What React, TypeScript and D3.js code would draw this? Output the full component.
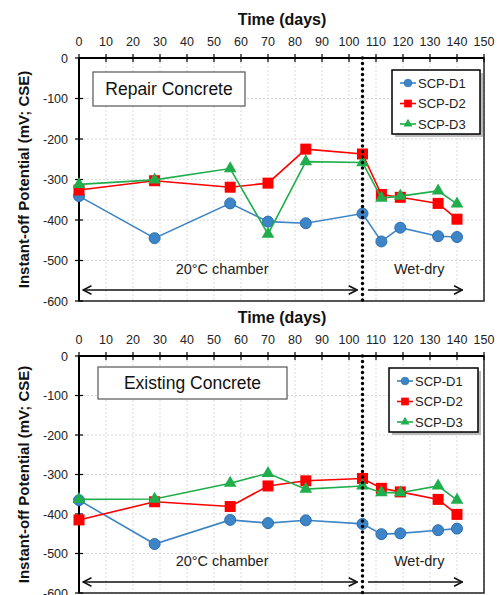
import React from 'react';
import * as d3 from 'd3';

// days when readings were taken
const days = [0, 28, 56, 70, 84, 105, 112, 119, 133, 140];

// Repair concrete (mV; CSE)
const repairD1 = [-341, -445, -359, -404, -408, -384, -453, -419, -440, -442];
const repairD2 = [-326, -303, -319, -309, -225, -237, -337, -344, -359, -398];
const repairD3 = [-312, -301, -273, -435, -256, -258, -346, -341, -328, -360];

// Existing concrete (mV; CSE)
const existD1 = [-365, -476, -415, -423, -416, -425, -451, -449, -441, -437];
const existD2 = [-415, -369, -381, -329, -316, -310, -335, -344, -363, -401];
const existD3 = [-363, -362, -322, -297, -337, -329, -346, -346, -329, -365];

const seriesNames = ['SCP-D1', 'SCP-D2', 'SCP-D3'];
const seriesColors = ['#3d85c6', '#ff0000', '#1fae4b'];
const xTicks = d3.range(0, 151, 10);
const yTicks = d3.range(-600, 1, 100);
const switchDay = 105;

const FONT = 'Arial, "Liberation Sans", sans-serif';

const Marker = ({ kind, x, y }) => {
  if (kind === 0) {
    return <circle cx={x} cy={y} r={5.5} fill={seriesColors[0]} stroke="#2a6fb0" strokeWidth={1} />;
  }
  if (kind === 1) {
    return <rect x={x - 5.5} y={y - 5.5} width={11} height={11} fill={seriesColors[1]} />;
  }
  const tri = d3.symbol().type(d3.symbolTriangle).size(70)();
  return <path d={tri} transform={`translate(${x},${y})`} fill={seriesColors[2]} />;
};

const Panel = ({ top, bottom, title, titleBox, legendBox, series }) => {
  const x = d3.scaleLinear().domain([0, 150]).range([79, 484]);
  const y = d3.scaleLinear().domain([-600, 0]).range([bottom, top]);
  const line = d3.line().x(d => x(d[0])).y(d => y(d[1]));

  const arrowY = y(-600) - 11;
  const noteY = y(-600) - 27;

  return (
    <g fontFamily={FONT}>
      {/* grid */}
      {xTicks.map(t => (
        <line key={'gx' + t} x1={x(t)} x2={x(t)} y1={y(0)} y2={y(-600)} stroke="#d9d9d9" strokeDasharray="2,2" />
      ))}
      {yTicks.map(t => (
        <line key={'gy' + t} x1={x(0)} x2={x(150)} y1={y(t)} y2={y(t)} stroke="#d9d9d9" strokeDasharray="2,2" />
      ))}

      {/* frame */}
      <rect x={x(0)} y={y(0)} width={x(150) - x(0)} height={y(-600) - y(0)} fill="none" stroke="#222" strokeWidth={1.5} />
      <line x1={x(0)} x2={x(150)} y1={y(0)} y2={y(0)} stroke="#000" strokeWidth={2} />
      <line x1={x(0)} x2={x(0)} y1={y(0)} y2={y(-600)} stroke="#000" strokeWidth={2} />

      {/* x axis on top */}
      {xTicks.map(t => (
        <g key={'tx' + t}>
          <line x1={x(t)} x2={x(t)} y1={y(0) - 4} y2={y(0) + 4} stroke="#000" strokeWidth={1.2} />
          <text x={x(t)} y={y(0) - 12} textAnchor="middle" fontSize={12.5} fill="#222">{t}</text>
        </g>
      ))}
      <text x={282} y={top - 33} textAnchor="middle" fontSize={16} fontWeight="bold" fill="#111">Time (days)</text>

      {/* y axis */}
      {yTicks.map(t => (
        <g key={'ty' + t}>
          <line x1={x(0) - 4} x2={x(0) + 4} y1={y(t)} y2={y(t)} stroke="#000" strokeWidth={1.2} />
          <text x={x(0) - 11} y={y(t) + 4.5} textAnchor="end" fontSize={12.5} fill="#222">{t}</text>
        </g>
      ))}
      <text
        transform={`translate(29,${(top + bottom) / 2}) rotate(-90)`}
        textAnchor="middle"
        fontSize={15}
        fontWeight="bold"
        fill="#111"
      >Instant-off Potential (mV; CSE)</text>

      {/* series */}
      {series.map((vals, i) => {
        const pts = days.map((d, j) => [d, vals[j]]);
        return (
          <g key={'s' + i}>
            <path d={line(pts)} fill="none" stroke={seriesColors[i]} strokeWidth={1.6} />
            {pts.map((p, j) => <Marker key={j} kind={i} x={x(p[0])} y={y(p[1])} />)}
          </g>
        );
      })}

      {/* switch from chamber to wet-dry */}
      <line x1={x(switchDay)} x2={x(switchDay)} y1={y(0)} y2={y(-600)} stroke="#000" strokeWidth={3.5} strokeDasharray="0,5.5" strokeLinecap="round" />

      {/* phase arrows */}
      <line x1={x(1.5)} x2={x(103)} y1={arrowY} y2={arrowY} stroke="#111" strokeWidth={1.5} markerStart="url(#arr)" markerEnd="url(#arr)" />
      <line x1={x(107)} x2={x(142)} y1={arrowY} y2={arrowY} stroke="#111" strokeWidth={1.5} markerEnd="url(#arr)" />
      <text x={x(53)} y={noteY} textAnchor="middle" fontSize={14.5} fill="#222">20°C chamber</text>
      <text x={x(126)} y={noteY} textAnchor="middle" fontSize={14.5} fill="#222">Wet-dry</text>

      {/* panel title */}
      <rect x={titleBox[0]} y={titleBox[1]} width={titleBox[2]} height={titleBox[3]} fill="#fff" stroke="#555" strokeWidth={1.2} />
      <text x={titleBox[0] + titleBox[2] / 2} y={titleBox[1] + titleBox[3] / 2 + 6} textAnchor="middle" fontSize={17.5} fill="#111">{title}</text>

      {/* legend */}
      <rect x={legendBox[0] + 3} y={legendBox[1] + 3} width={legendBox[2]} height={legendBox[3]} fill="#bbb" />
      <rect x={legendBox[0]} y={legendBox[1]} width={legendBox[2]} height={legendBox[3]} fill="#fff" stroke="#000" strokeWidth={1.5} />
      {seriesNames.map((n, i) => {
        const ly = legendBox[1] + 13 + i * 20.5;
        const lx = legendBox[0] + 8;
        return (
          <g key={n}>
            <line x1={lx} x2={lx + 16} y1={ly} y2={ly} stroke={seriesColors[i]} strokeWidth={1.6} />
            <g transform={`translate(${lx + 8},${ly}) scale(0.7) translate(${-(lx + 8)},${-ly})`}>
              <Marker kind={i} x={lx + 8} y={ly} />
            </g>
            <text x={lx + 18} y={ly + 4.5} fontSize={13} fill="#222">{n}</text>
          </g>
        );
      })}
    </g>
  );
};

export default function App() {
  return (
    <svg width={502} height={595} style={{ position: 'absolute', left: 0, top: 0, background: '#fff' }}>
      <defs>
        <marker id="arr" viewBox="0 0 10 10" refX="9" refY="5" markerWidth="7" markerHeight="7" orient="auto-start-reverse">
          <path d="M1,1 L9,5 L1,9" fill="none" stroke="#111" strokeWidth={1.5} />
        </marker>
      </defs>
      <Panel
        top={58}
        bottom={301}
        title="Repair Concrete"
        titleBox={[93, 72, 152, 34]}
        legendBox={[392, 70, 88, 64]}
        series={[repairD1, repairD2, repairD3]}
      />
      <Panel
        top={356}
        bottom={593}
        title="Existing Concrete"
        titleBox={[98, 367, 189, 32]}
        legendBox={[389, 368, 89, 64]}
        series={[existD1, existD2, existD3]}
      />
    </svg>
  );
}
